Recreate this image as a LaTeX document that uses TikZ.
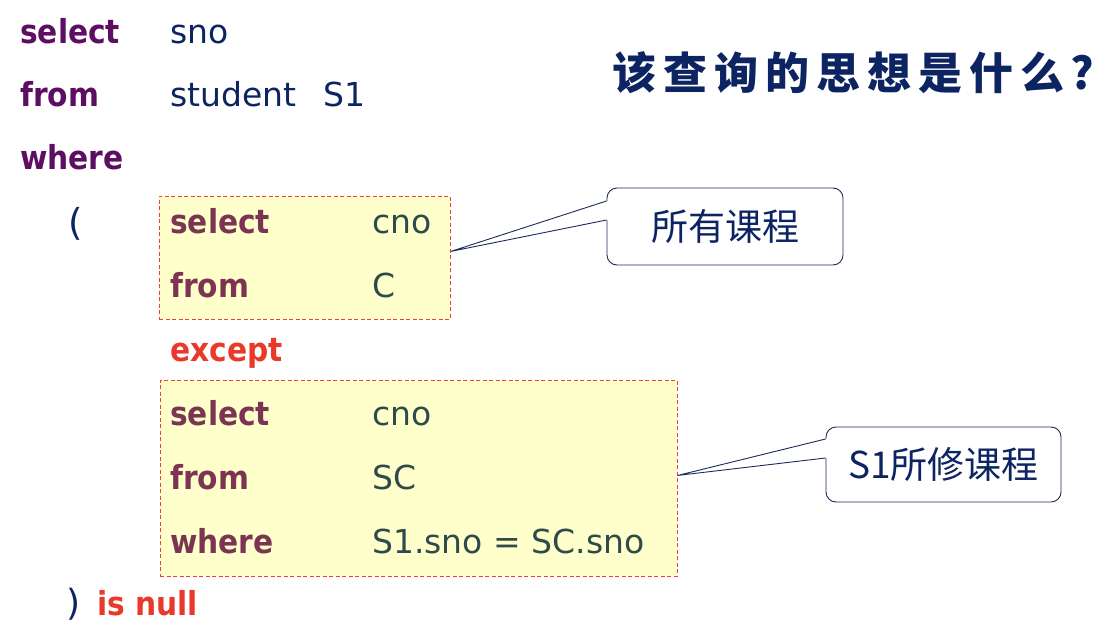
\documentclass[tikz,border=0pt]{standalone}
\usepackage{fontspec}
\setmainfont{DejaVu Sans}[BoldFeatures={FakeStretch=0.9}]
\newfontfamily\cjk{Noto Sans CJK SC}
\newcommand{\qgap}{\hspace{7pt}}
\definecolor{kwtop}{RGB}{94,14,98}
\definecolor{valtop}{RGB}{12,36,97}
\definecolor{kwbox}{RGB}{123,53,82}
\definecolor{valbox}{RGB}{47,74,74}
\definecolor{kwred}{RGB}{232,57,43}
\definecolor{boxfill}{RGB}{255,255,204}
\definecolor{boxline}{RGB}{238,64,52}
\definecolor{calline}{RGB}{28,42,92}

\begin{document}
\begin{tikzpicture}[x=1pt,y=1pt,yscale=-1,
  kw/.style={anchor=base west,inner sep=0pt,font=\fontsize{33}{40}\selectfont\bfseries,text=kwtop},
  val/.style={anchor=base west,inner sep=0pt,font=\fontsize{33}{40}\selectfont,text=valtop},
  bkw/.style={kw,text=kwbox},
  bval/.style={val,text=valbox},
  redkw/.style={kw,text=kwred},
  sqlbox/.style={draw=boxline,fill=boxfill,dash pattern={on 4pt off 2.5pt},line width=0.8pt,anchor=north west,inner sep=0pt},
  callout/.style={draw=calline,fill=white,rounded corners=10pt,line width=0.9pt,inner sep=0pt,text=valtop,font=\cjk\fontsize{37}{40}\selectfont},
]
\fill[white] (0,0) rectangle (1102,624);
\useasboundingbox (0,0) rectangle (1102,624);

%Shape: Dashed boxes
\node[sqlbox,minimum width=291,minimum height=123] (sub1) at (159,196) {};
\node[sqlbox,minimum width=517,minimum height=196] (sub2) at (160,380) {};

% Text Node
\node[kw] (sel) at (20,43) {select};
\node[val] (selv) at (170,43) {sno};
\node[kw] (frm) at (20,106) {from};
\node[val] (frmv) at (170,106) {student\hspace{0.5em} S1};
\node[kw] (whr) at (20,169) {where};
\node[val,font=\fontsize{37}{40}\selectfont] (lpar) at (68,235) {(};
% Text Node
\node[bkw] (sel1) at (170,233) {select};
\node[bval] (sel1v) at (372,233) {cno};
\node[bkw] (frm1) at (170,297) {from};
\node[bval] (frm1v) at (372,297) {C};
\node[redkw] (exc) at (170,361) {except};
% Text Node
\node[bkw] (sel2) at (170,425) {select};
\node[bval] (sel2v) at (372,425) {cno};
\node[bkw] (frm2) at (170,489) {from};
\node[bval] (frm2v) at (372,489) {SC};
\node[bkw] (whr2) at (170,553) {where};
\node[bval] (whr2v) at (372,553) {S1.sno = SC.sno};
\node[val,font=\fontsize{36}{40}\selectfont] (rpar) at (66,615) {)};
\node[redkw] (isnull) at (97,615) {is null};

% Text Node
\node[anchor=west,text=valtop,inner sep=0pt,font=\cjk\fontsize{44}{46}\selectfont\bfseries] (question) at (612,73) {该\qgap 查\qgap 询\qgap 的\qgap 思\qgap 想\qgap 是\qgap 什\qgap 么\hspace{6pt}?};

%Shape: Callouts
\node[callout,minimum width=236,minimum height=77] (note1) at (725,226.5) {所有课程};
\node[callout,minimum width=235,minimum height=75] (note2) at (943.5,464.5) {S1所修课程};

\coordinate (tip1) at ([yshift=-6.5pt]sub1.east);
\coordinate (tip2) at ([yshift=-3pt]sub2.east);
\fill[white] ([xshift=1.5pt,yshift=-6.5pt]note1.west) -- (tip1) -- ([xshift=1.5pt,yshift=-25.5pt]note1.west) -- cycle;
\draw[calline,line width=0.9pt] ([yshift=-6.5pt]note1.west) -- (tip1) -- ([yshift=-25.5pt]note1.west);
\fill[white] ([xshift=1.5pt,yshift=-6.5pt]note2.west) -- (tip2) -- ([xshift=1.5pt,yshift=-25.5pt]note2.west) -- cycle;
\draw[calline,line width=0.9pt] ([yshift=-6.5pt]note2.west) -- (tip2) -- ([yshift=-25.5pt]note2.west);

\end{tikzpicture}
\end{document}
